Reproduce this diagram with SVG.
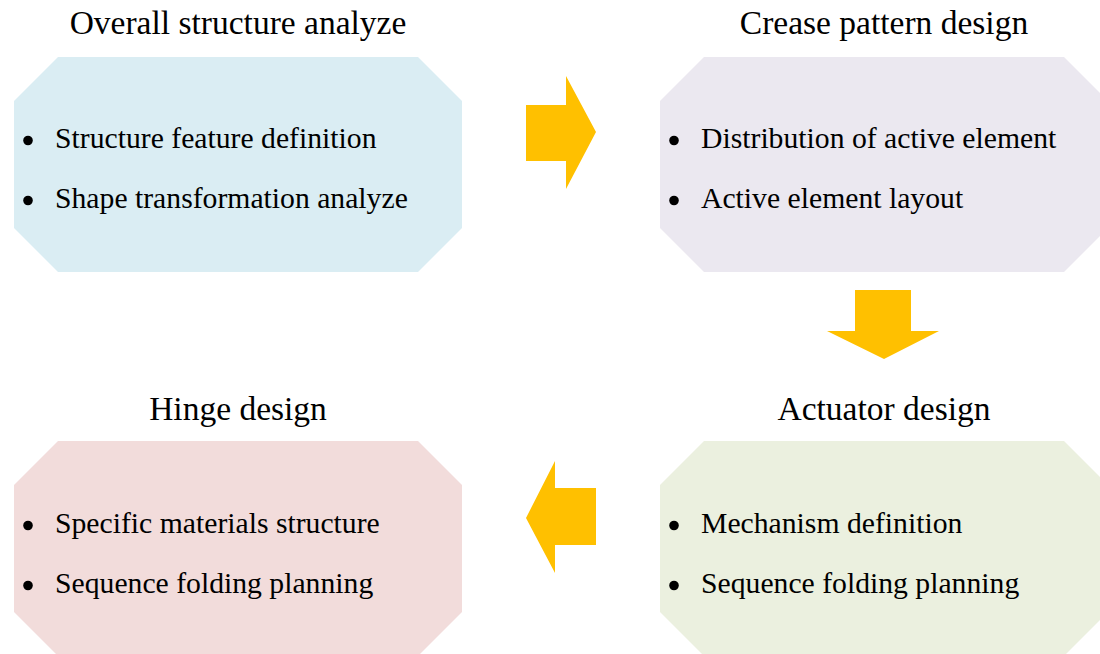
<svg xmlns="http://www.w3.org/2000/svg" width="1100" height="654" viewBox="0 0 1100 654">
<style>
.t{font-family:"Liberation Serif","Times New Roman",serif;fill:#000}
.title{font-size:33.5px;text-anchor:middle}
.item{font-size:29.7px}
.dot{fill:#000}
.arr{fill:#FFC000}
</style>
<rect width="1100" height="654" fill="#fff"/>
<g id="node-overall">
<polygon points="58,57 418,57 462,101 462,228 418,272 58,272 14,228 14,101" fill="#DAEDF3"/>
<text class="t title" x="238" y="34">Overall structure analyze</text>
<circle class="dot" cx="28" cy="140.5" r="4.8"/>
<text class="t item" x="55" y="148">Structure feature definition</text>
<circle class="dot" cx="28" cy="200.5" r="4.8"/>
<text class="t item" x="55" y="208">Shape transformation analyze</text>
</g>
<g id="node-crease">
<polygon points="704,57 1064,57 1108,101 1108,228 1064,272 704,272 660,228 660,101" fill="#EBE8F0"/>
<text class="t title" x="884" y="34">Crease pattern design</text>
<circle class="dot" cx="674" cy="140.5" r="4.8"/>
<text class="t item" x="701" y="148">Distribution of active element</text>
<circle class="dot" cx="674" cy="200.5" r="4.8"/>
<text class="t item" x="701" y="208">Active element layout</text>
</g>
<g id="node-actuator">
<polygon points="704,441 1064,441 1108,485 1108,612 1064,656 704,656 660,612 660,485" fill="#EBF0DF"/>
<text class="t title" x="884" y="420">Actuator design</text>
<circle class="dot" cx="674" cy="525.5" r="4.8"/>
<text class="t item" x="701" y="533">Mechanism definition</text>
<circle class="dot" cx="674" cy="585.5" r="4.8"/>
<text class="t item" x="701" y="593">Sequence folding planning</text>
</g>
<g id="node-hinge">
<polygon points="58,441 418,441 462,485 462,612 418,656 58,656 14,612 14,485" fill="#F2DCDB"/>
<text class="t title" x="238" y="420">Hinge design</text>
<circle class="dot" cx="28" cy="525.5" r="4.8"/>
<text class="t item" x="55" y="533">Specific materials structure</text>
<circle class="dot" cx="28" cy="585.5" r="4.8"/>
<text class="t item" x="55" y="593">Sequence folding planning</text>
</g>
<g id="connectors">
<polygon class="arr" points="526,105 566,105 566,76 596,132 566,189 566,161 526,161"/>
<polygon class="arr" points="855,290 911,290 911,331 939,331 884,359 827,331 855,331"/>
<polygon class="arr" points="596,488 555,488 555,461 526,518 555,573 555,545 596,545"/>
</g>
</svg>
